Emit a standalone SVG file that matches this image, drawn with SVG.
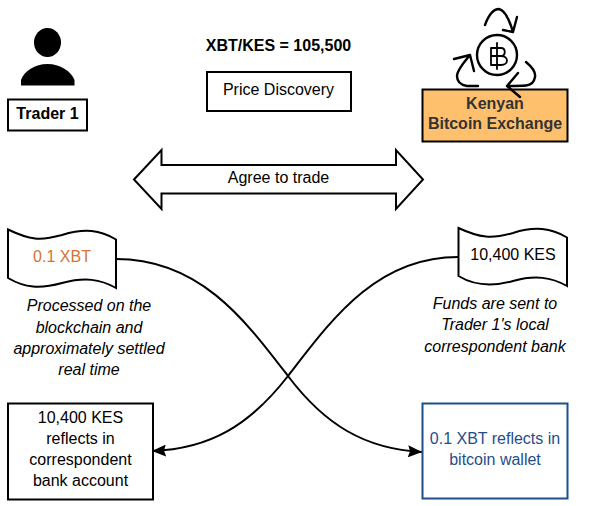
<svg xmlns="http://www.w3.org/2000/svg" width="589" height="506" viewBox="0 0 589 506">
<defs>
<marker id="ah" markerUnits="userSpaceOnUse" markerWidth="15" markerHeight="12" refX="14" refY="6" orient="auto"><path d="M0 0L14 6L0 12L2 6Z" fill="#000"/></marker>
</defs>
<style>
text{font-family:"Liberation Sans",Arial,sans-serif;font-size:16px;fill:#000;text-anchor:middle}
.s{fill:#fff;stroke:#000;stroke-width:2}
.b{font-weight:bold}
.i{font-style:italic}
.c{fill:none;stroke:#000;stroke-width:2}
.ic{fill:none;stroke:#000;stroke-width:2.4;stroke-linecap:round;stroke-linejoin:round}
</style>
<rect width="589" height="506" fill="#fff"/>
<g id="connectors">
<path class="c" d="M116 259C200 259 245 320 288 376C325 425 365 449 422 452" marker-end="url(#ah)"/>
<path class="c" d="M458 257C375 257 330 322 288 376C250 425 210 449 152 451" marker-end="url(#ah)"/>
</g>
<g id="trader-icon">
<ellipse cx="47.500" cy="42.500" rx="13.500" ry="14.500" fill="#000"/>
<path d="M21 85.500V80C24 71 35 64 47.500 64C60 64 71 71 74.500 80V85.500Z" fill="#000"/>
</g>
<g id="trader"><rect class="s" x="8" y="99.500" width="79" height="31"/><text class="b" x="47.500" y="119">Trader 1</text></g>
<g id="price-label"><text class="b" x="278.500" y="51">XBT/KES = 105,500</text></g>
<g id="price-discovery"><rect class="s" x="207" y="72" width="144" height="39"/><text x="278.500" y="95">Price Discovery</text></g>
<g id="exchange"><rect x="422.500" y="89.500" width="145" height="52" fill="#ffc06e" stroke="#000" stroke-width="2"/><text class="b" x="495" y="108.500" style="fill:#333">Kenyan</text><text class="b" x="495" y="129" style="fill:#333">Bitcoin Exchange</text></g>
<g id="exchange-icon">
<circle class="ic" cx="497" cy="55" r="20"/>
<path class="ic" style="stroke-width:1.800" d="M497 43V69M491 48V65M491 48H501C506 48 506 56 501 56H491M501 56C509 56 509 65 501 65H491"/>
<path class="ic" d="M485 25C489 14 494 9 499 9C505 10 510 22 513 32M517 17L513 32L503 30"/>
<path class="ic" d="M526 62C532 67 536 72 535 77C534 83 531 85 526 85.500C520 86 513 86 507 86M518 73L507 86L520 97"/>
<path class="ic" d="M478 86H467C461 85 457 82 457 76C457 70 465 61 470 55M454 59L470 55L474 71"/>
</g>
<g id="agree"><path class="s" d="M134 179.500L161.500 150V165H396V150L423 179.500L396 209V193.500H161.500V209Z"/><text x="278.500" y="183">Agree to trade</text></g>
<g id="xbt-note"><path class="s" d="M8 229.500C30 240 40 241 62 235C85 228 100 230 116 239.500V288C100 279 85 277 62 283C40 289 25 288 8 278Z"/><text x="62" y="262" style="fill:#d4742f">0.1 XBT</text></g>
<g id="kes-note"><path class="s" d="M458.500 228C480 238 492 239 513 233C535 226 551 228 567 237.500V286C551 277 535 275 513 281C492 287 475 286 458.500 276Z"/><text x="513" y="260">10,400 KES</text></g>
<g id="left-text">
<text class="i" x="89" y="311">Processed on the</text><text class="i" x="89" y="333">blockchain and</text><text class="i" x="89" y="354">approximately settled</text><text class="i" x="89" y="375">real time</text></g>
<g id="right-text">
<text class="i" x="495" y="309">Funds are sent to</text><text class="i" x="495" y="330">Trader 1's local</text><text class="i" x="495" y="352">correspondent bank</text></g>
<g id="kes-box"><rect class="s" x="8" y="403.500" width="145" height="96"/><text x="80.500" y="423">10,400 KES</text><text x="80.500" y="444">reflects in</text><text x="80.500" y="465">correspondent</text><text x="80.500" y="486">bank account</text></g>
<g id="xbt-box"><rect x="422.500" y="403.500" width="145" height="95" fill="#fff" stroke="#1f4e8c" stroke-width="2"/><text x="495" y="444" style="fill:#1f4e8c">0.1 XBT reflects in</text><text x="495" y="465" style="fill:#1f4e8c">bitcoin wallet</text></g>
</svg>
